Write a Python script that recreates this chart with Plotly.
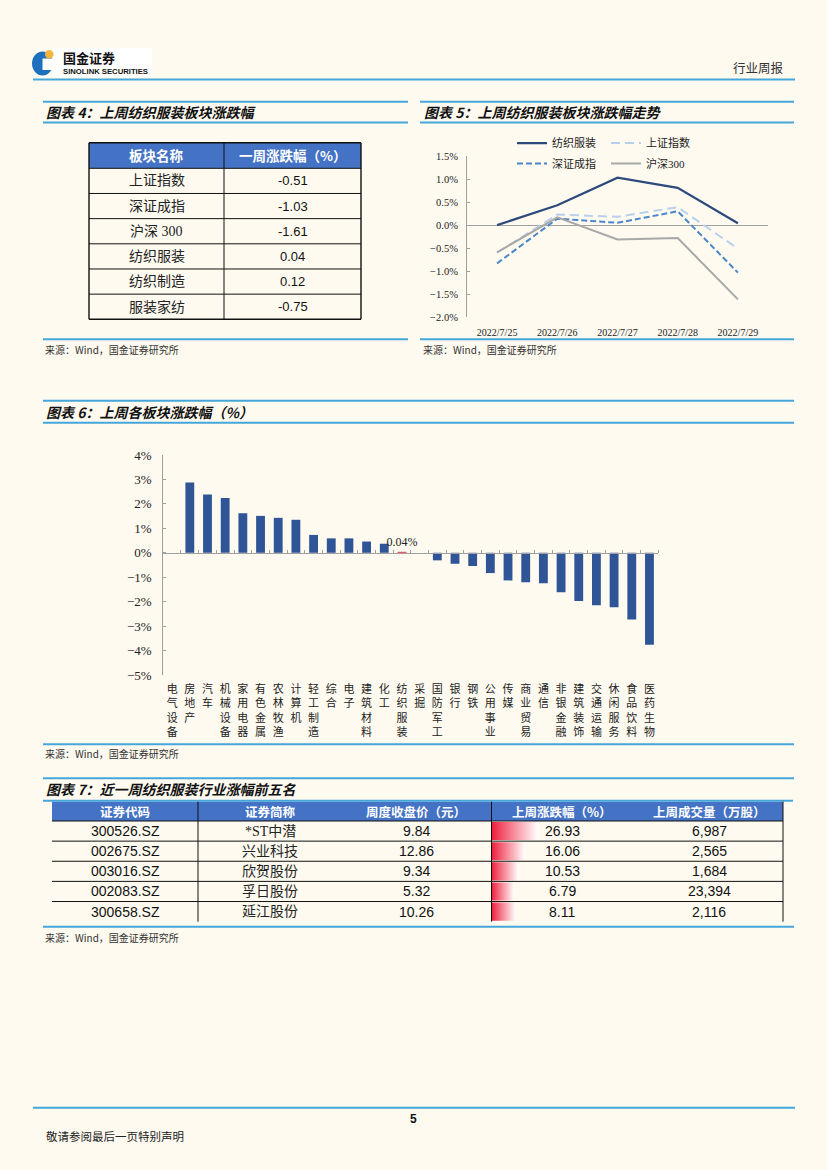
import numpy as np
import plotly.graph_objects as go

# ---------------- data ----------------
t4_headers = ['板块名称', '一周涨跌幅（%）']
t4_names = ['上证指数', '深证成指', '沪深 300', '纺织服装', '纺织制造', '服装家纺']
t4_values = [-0.51, -1.03, -1.61, 0.04, 0.12, -0.75]

dates = ['2022/7/25', '2022/7/26', '2022/7/27', '2022/7/28', '2022/7/29']
fz_series = [0.00, 0.43, 1.03, 0.81, 0.04]
sh_series = [-0.60, 0.23, 0.18, 0.39, -0.51]
sz_series = [-0.83, 0.14, 0.05, 0.30, -1.03]
hs_series = [-0.59, 0.17, -0.31, -0.28, -1.61]

sectors = ['电气设备', '房地产', '汽车', '机械设备', '家用电器', '有色金属', '农林牧渔',
           '计算机', '轻工制造', '综合', '电子', '建筑材料', '化工', '纺织服装', '采掘',
           '国防军工', '银行', '钢铁', '公用事业', '传媒', '商业贸易', '通信', '非银金融',
           '建筑装饰', '交通运输', '休闲服务', '食品饮料', '医药生物']
sector_chg = [None, 2.88, 2.38, 2.24, 1.62, 1.51, 1.43, 1.35, 0.73, 0.59, 0.59, 0.46,
              0.37, 0.04, 0.0, -0.31, -0.45, -0.54, -0.83, -1.13, -1.21, -1.25, -1.61,
              -1.97, -2.15, -2.23, -2.73, -3.76]
highlight = '纺织服装'

t7_headers = ['证券代码', '证券简称', '周度收盘价（元）', '上周涨跌幅（%）', '上周成交量（万股）']
t7_codes = ['300526.SZ', '002675.SZ', '003016.SZ', '002083.SZ', '300658.SZ']
t7_names = ['*ST中潜', '兴业科技', '欣贺股份', '孚日股份', '延江股份']
t7_close = [9.84, 12.86, 9.34, 5.32, 10.26]
t7_chg = [26.93, 16.06, 10.53, 6.79, 8.11]
t7_vol = [6987, 2565, 1684, 23394, 2116]

# ---------------- style ----------------
W, H = 827, 1170
BG = '#FEFAF0'
RULE = '#45A6DA'
HDR = '#4472C4'
NAVY = '#2F5597'
AXIS = '#A0A0A0'
CJK = 'Noto Sans CJK SC'
SERIF = 'Liberation Serif, Noto Sans CJK SC'
SANS = 'Liberation Sans, Noto Sans CJK SC'


def fx(x):
    return x / W


def fy(y):
    return 1 - y / H


fig = go.Figure()


def txt(x, y, s, size=12, color='#222', family=CJK, xanchor='center', weight='normal', style='normal', pad=1):
    fig.add_annotation(x=fx(x), y=fy(y), xref='paper', yref='paper', text=s, showarrow=False,
                       xanchor=xanchor, yanchor='middle', borderpad=pad,
                       font=dict(family=family, size=size, color=color, weight=weight, style=style))


def hline(x0, x1, y, color=RULE, width=2):
    fig.add_shape(type='line', xref='paper', yref='paper', x0=fx(x0), x1=fx(x1), y0=fy(y), y1=fy(y),
                  line=dict(color=color, width=width))


def vline(x, y0, y1, color='#111', width=1):
    fig.add_shape(type='line', xref='paper', yref='paper', x0=fx(x), x1=fx(x), y0=fy(y0), y1=fy(y1),
                  line=dict(color=color, width=width))


def rect(x0, y0, x1, y1, fill, line_w=0, line_c='#000'):
    fig.add_shape(type='rect', xref='paper', yref='paper', x0=fx(x0), x1=fx(x1), y0=fy(y1), y1=fy(y0),
                  fillcolor=fill, line=dict(width=line_w, color=line_c), layer='below')


def title(x, y, s):
    txt(x, y, s, size=14, color='#111', family=CJK, xanchor='left', weight='bold', style='italic')


def source(x, y):
    txt(x, y, '来源：Wind，国金证券研究所', size=10, color='#333', family=CJK, xanchor='left')


# ---------------- header / logo ----------------
rect(53, 48, 152, 77, 'white')
fig.add_shape(type='circle', xref='paper', yref='paper', x0=fx(32), x1=fx(53), y0=fy(75.5), y1=fy(51.5),
              fillcolor='#1F6FBF', line=dict(width=0))
fig.add_shape(type='rect', xref='paper', yref='paper', x0=fx(42.5), x1=fx(53), y0=fy(70), y1=fy(58.5),
              fillcolor='white', line=dict(width=0))
fig.add_shape(type='circle', xref='paper', yref='paper', x0=fx(45), x1=fx(53.5), y0=fy(58.5), y1=fy(50),
              fillcolor='#F4B63A', line=dict(width=0))
txt(62, 57.3, '国金证券', size=13, color='#111', family=CJK, xanchor='left', weight='bold', pad=0)
txt(62, 71, 'SINOLINK SECURITIES', size=7.7, color='#111', family='Liberation Sans', xanchor='left',
    weight='bold', pad=0)
txt(786, 67, '行业周报', size=12.5, color='#333', family=CJK, xanchor='right')
hline(33, 795, 79.5)

# ---------------- section titles / rules ----------------
hline(43, 408, 101.7); hline(43, 408, 122.5)
title(44, 111.7, '图表 4：上周纺织服装板块涨跌幅')
hline(420, 794, 101.7); hline(420, 794, 122.5)
title(422, 111.7, '图表 5：上周纺织服装板块涨跌幅走势')
hline(43, 408, 339.3); source(43, 349.5)
hline(420, 794, 339.3); source(421, 349.5)

hline(43, 794, 400.7); hline(43, 794, 422.7)
title(44, 411.5, '图表 6：上周各板块涨跌幅（%）')
hline(43, 794, 744.3); source(43, 753.5)

hline(43, 794, 778.3); hline(43, 793, 800.7)
title(44, 788.5, '图表 7：近一周纺织服装行业涨幅前五名')
hline(43, 794, 926.7); source(43, 937.5)

hline(33, 795, 1107.7)
txt(413.5, 1119, '5', size=12, color='#111', family='Liberation Sans', weight='bold')
txt(44, 1136, '敬请参阅最后一页特别声明', size=11.5, color='#222', family=CJK, xanchor='left')

# ---------------- table 4 ----------------
t4_x = [89, 224, 361]
t4_top, t4_hdr_bot, t4_row_h = 142.7, 168.3, 25.17
t4_bot = t4_hdr_bot + t4_row_h * len(t4_names)
rect(t4_x[0], t4_top, t4_x[2], t4_hdr_bot, HDR)
for i in range(len(t4_names) + 2):
    yy = t4_top if i == 0 else t4_hdr_bot + t4_row_h * (i - 1)
    hline(t4_x[0], t4_x[2], yy, color='#111', width=1.4 if i in (0, len(t4_names) + 1) else 1)
for k, xx in enumerate(t4_x):
    vline(xx, t4_top, t4_bot, width=1.4 if k != 1 else 1)
t4_cx = [(t4_x[0] + t4_x[1]) / 2, (t4_x[1] + t4_x[2]) / 2]
for c, hname in enumerate(t4_headers):
    txt(t4_cx[c], (t4_top + t4_hdr_bot) / 2, hname, size=13.5, color='white', family=CJK, weight='bold')
for i, (nm, v) in enumerate(zip(t4_names, t4_values)):
    yc = t4_hdr_bot + t4_row_h * (i + 0.5)
    txt(t4_cx[0], yc, nm, size=14, color='#222', family=SERIF)
    txt(t4_cx[1], yc, f'{v:.2f}', size=13, color='#111', family=SANS)

# ---------------- chart 5: lines ----------------
series5 = [
    ('纺织服装', fz_series, '#2E4A7D', 'solid', 2.25, 'legend'),
    ('上证指数', sh_series, '#B9D0EC', '9px,5px', 2, 'legend'),
    ('深证成指', sz_series, '#4A86C8', '6px,3px', 2, 'legend2'),
    ('沪深300', hs_series, '#A8A8A8', 'solid', 2, 'legend2'),
]
for name, vals, color, dash, w, lg in series5:
    fig.add_trace(go.Scatter(x=dates, y=vals, name=name, mode='lines',
                             line=dict(color=color, dash=dash, width=w),
                             xaxis='x', yaxis='y', legend=lg, hoverinfo='skip'))

# ---------------- chart 6: bars ----------------
bar_colors = ['#E8283C' if s == highlight else NAVY for s in sectors]
bar_text = [f'{v:.2f}%' if (s == highlight and v is not None) else '' for s, v in zip(sectors, sector_chg)]
fig.add_trace(go.Bar(x=sectors, y=sector_chg, marker=dict(color=bar_colors, line=dict(width=0)),
                     width=0.5, text=bar_text, textposition='outside', constraintext='none',
                     textfont=dict(family=SERIF, size=12, color='#222'), cliponaxis=False,
                     xaxis='x2', yaxis='y2', showlegend=False, hoverinfo='skip'))
# helper trace so the zero-line axis (x3) exists
fig.add_trace(go.Scatter(x=[0], y=[0], mode='markers', marker=dict(opacity=0), xaxis='x3', yaxis='y2',
                         showlegend=False, hoverinfo='skip'))
vert_labels = ['<br>'.join(list(s)) for s in sectors]

# ---------------- table 7 ----------------
t7_left, t7_right = 52, 783
t7_div = [198, 491.5]
t7_cx = [125, 270, 416, 562, 709]
t7_top, t7_hdr_bot, t7_row_h = 801.7, 821, 20.13
t7_bot = t7_hdr_bot + t7_row_h * len(t7_codes)
rect(t7_left, t7_top, t7_right, t7_hdr_bot, HDR)
for i in range(len(t7_codes)):
    hline(t7_left, t7_right, t7_hdr_bot + t7_row_h * i, color='#111', width=1)
for xx in t7_div + [t7_right]:
    vline(xx, t7_top, t7_bot, color='#111', width=1)
for c, hname in enumerate(t7_headers):
    txt(t7_cx[c], (t7_top + t7_hdr_bot) / 2, hname, size=12.5, color='white', family=CJK, weight='bold')

# data bars (Excel-style) on their own axes
bar_axis_min = -12.1
for i, v in enumerate(t7_chg):
    fig.add_trace(go.Scatter(
        x=[bar_axis_min, v, v, bar_axis_min, bar_axis_min],
        y=[i - 0.45, i - 0.45, i + 0.45, i + 0.45, i - 0.45],
        mode='lines', line=dict(width=0), fill='toself',
        fillgradient=dict(type='horizontal', start=bar_axis_min, stop=v,
                          colorscale=[[0, '#EE1C3A'], [1, 'rgba(255,255,255,0.95)']]),
        xaxis='x4', yaxis='y4', showlegend=False, hoverinfo='skip'))

for i in range(len(t7_codes)):
    yc = t7_hdr_bot + t7_row_h * (i + 0.5)
    txt(t7_cx[0], yc, t7_codes[i], size=14, color='#111', family=SANS)
    txt(t7_cx[1], yc, t7_names[i], size=14, color='#222', family=SERIF)
    txt(t7_cx[2], yc, f'{t7_close[i]:.2f}', size=14, color='#111', family=SANS)
    txt(t7_cx[3], yc, f'{t7_chg[i]:.2f}', size=14, color='#111', family=SANS)
    txt(t7_cx[4], yc, f'{t7_vol[i]:,}', size=14, color='#111', family=SANS)

# ---------------- layout ----------------
c6_top, c6_bot = 455, 675
c6_ymin, c6_ymax = -5, 4
zero_pos = fy(c6_bot) + (0 - c6_ymin) / (c6_ymax - c6_ymin) * (fy(c6_top) - fy(c6_bot))

fig.update_layout(
    template='none',
    width=W, height=H, margin=dict(l=0, r=0, t=0, b=0, pad=0, autoexpand=False),
    paper_bgcolor=BG, plot_bgcolor='rgba(0,0,0,0)',
    font=dict(family=CJK, color='#222'),
    bargap=0.5,
    xaxis=dict(domain=[fx(467), fx(768)], anchor='y', type='category', range=[-0.5, len(dates) - 0.5],
               showline=False, showgrid=False,
               ticks='', zeroline=False, tickfont=dict(family=SERIF, size=10, color='#222'),
               tickangle=0, automargin=False, ticklabelstandoff=8),
    yaxis=dict(domain=[fy(317.3), fy(156)], anchor='x', range=[-2.0, 1.5], dtick=0.5, tickformat='.1f',
               ticksuffix='%', showline=True, linecolor=AXIS, linewidth=1, ticks='inside', ticklen=3,
               tickcolor=AXIS, showgrid=False, zeroline=True, zerolinecolor=AXIS, zerolinewidth=1,
               automargin=False, ticklabelstandoff=6,
               tickfont=dict(family=SERIF, size=10.5, color='#222')),
    xaxis2=dict(domain=[fx(163.3), fx(658.3)], anchor='y2', type='category', categoryorder='array',
                categoryarray=sectors, tickmode='array', tickvals=sectors, ticktext=vert_labels,
                showline=False, showgrid=False, ticks='', zeroline=False, tickangle=0,
                automargin=False, ticklabelstandoff=6,
                tickfont=dict(family=CJK, size=11, color='#222')),
    yaxis2=dict(domain=[fy(c6_bot), fy(c6_top)], anchor='x2', range=[c6_ymin, c6_ymax], dtick=1,
                ticksuffix='%', showline=True, linecolor=AXIS, linewidth=1, ticks='inside', ticklen=3,
                tickcolor=AXIS, showgrid=False, zeroline=False, automargin=False, ticklabelstandoff=8,
                tickfont=dict(family=SERIF, size=13, color='#222')),
    xaxis3=dict(overlaying='x2', anchor='free', position=zero_pos, side='top',
                range=[-0.5, len(sectors) - 0.5], tickmode='array',
                tickvals=list(np.arange(0.5, len(sectors), 1.0)), ticks='outside', ticklen=3,
                tickcolor=AXIS, showline=True, linecolor=AXIS, linewidth=1, showticklabels=False,
                showgrid=False, zeroline=False, automargin=False),
    xaxis4=dict(domain=[fx(491.5), fx(636)], anchor='y4', range=[bar_axis_min, 108.7], visible=False,
                automargin=False),
    yaxis4=dict(domain=[fy(t7_bot), fy(t7_hdr_bot)], anchor='x4', range=[len(t7_chg) - 0.5, -0.5],
                visible=False, automargin=False),
    legend=dict(orientation='h', x=fx(512), y=fy(128.5), xanchor='left', yanchor='top',
                bgcolor='rgba(0,0,0,0)', font=dict(family=SERIF, size=11, color='#222'),
                itemwidth=30, entrywidth=49, traceorder='normal'),
    legend2=dict(orientation='h', x=fx(512), y=fy(149), xanchor='left', yanchor='top',
                 bgcolor='rgba(0,0,0,0)', font=dict(family=SERIF, size=11, color='#222'),
                 itemwidth=30, entrywidth=49, traceorder='normal'),
    showlegend=True,
)

fig.write_html('out.html', config={'displayModeBar': False, 'staticPlot': True},
               post_script="document.body.style.margin='0';document.body.style.background='%s';" % BG)
